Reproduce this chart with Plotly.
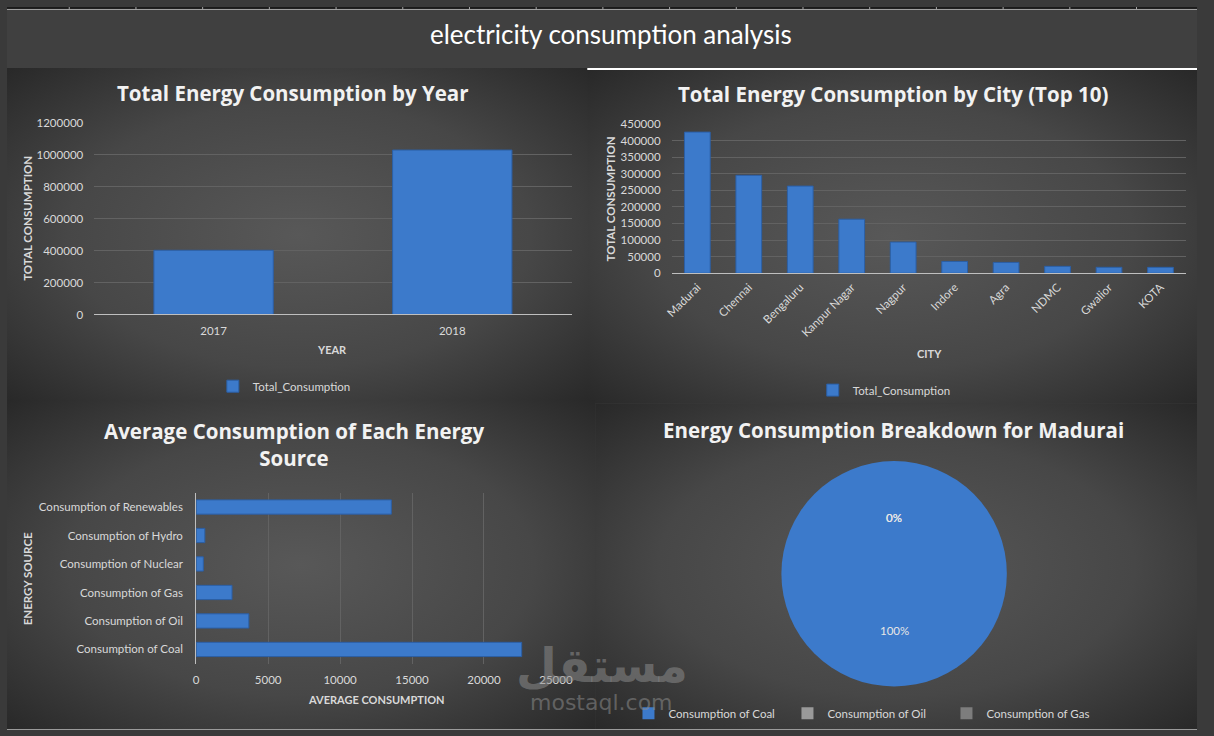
import base64
import math
import plotly.graph_objects as go

W, H = 1214, 736

# ---------------- data ----------------
years = ["2017", "2018"]
year_totals = [402000, 1030000]

cities = ["Madurai", "Chennai", "Bengaluru", "Kanpur Nagar", "Nagpur",
          "Indore", "Agra", "NDMC", "Gwalior", "KOTA"]
city_totals = [425300, 295000, 262500, 162800, 93800, 35500, 32600, 20700, 17800, 17700]

sources = ["Consumption of Coal", "Consumption of Oil", "Consumption of Gas",
           "Consumption of Nuclear", "Consumption of Hydro", "Consumption of Renewables"]
source_avgs = [22620, 3660, 2490, 495, 600, 13560]

pie_labels = ["Consumption of Coal", "Consumption of Oil", "Consumption of Gas"]
pie_values = [425300, 0, 0]

# ---------------- helpers ----------------
def px(x):
    return x / W

def py(y):
    return 1 - y / H

FONT = "Lato"
TFONT = "Open Sans"
TICK = dict(family=FONT, size=11.5, color="#d9d9d9")
BLUE = "#3c7acb"
BLUE_LINE = "#2b5fa6"
GRID = "#626262"
AXLINE = "#bfbfbf"


def panel_svg(w, h):
    svg = (f'<svg xmlns="http://www.w3.org/2000/svg" width="{w}" height="{h}" '
           f'viewBox="0 0 {w} {h}" preserveAspectRatio="none"><defs>'
           '<radialGradient id="g" cx="50%" cy="50%" r="72%">'
           '<stop offset="0%" stop-color="#585858"/>'
           '<stop offset="55%" stop-color="#474747"/>'
           '<stop offset="100%" stop-color="#272727"/>'
           '</radialGradient></defs>'
           f'<rect width="{w}" height="{h}" fill="url(#g)"/></svg>')
    return "data:image/svg+xml;base64," + base64.b64encode(svg.encode()).decode()


fig = go.Figure()

# ---------------- traces ----------------
fig.add_trace(go.Bar(
    x=years, y=year_totals, name="Total_Consumption",
    marker=dict(color=BLUE, line=dict(color=BLUE_LINE, width=1)),
    xaxis="x", yaxis="y", legend="legend", showlegend=True))

fig.add_trace(go.Bar(
    x=cities, y=city_totals, name="Total_Consumption",
    marker=dict(color=BLUE, line=dict(color=BLUE_LINE, width=1)),
    xaxis="x2", yaxis="y2", legend="legend2", showlegend=True))

fig.add_trace(go.Bar(
    x=source_avgs, y=sources, orientation="h", name="Average",
    marker=dict(color=BLUE, line=dict(color=BLUE_LINE, width=1)),
    xaxis="x3", yaxis="y3", showlegend=False))

pie_cx, pie_cy, pie_r = 905, 577, 115
fig.add_trace(go.Pie(
    labels=pie_labels, values=pie_values, sort=False, direction="clockwise",
    rotation=0, textinfo="none", hoverinfo="label+percent",
    marker=dict(colors=[BLUE, "#9a9a9a", "#7d7d7d"], line=dict(width=0)),
    domain=dict(x=[px(pie_cx - pie_r), px(pie_cx + pie_r)],
                y=[py(pie_cy + pie_r), py(pie_cy - pie_r)]),
    legend="legend3", showlegend=True))

# ---------------- annotations ----------------
ann = []

def text(x, y, s, size, bold=False, color="#f2f2f2", angle=0, family=FONT, xanchor="center"):
    ann.append(dict(x=px(x), y=py(y), xref="paper", yref="paper", text=(f"<b>{s}</b>" if bold else s),
                    showarrow=False, xanchor=xanchor, yanchor="middle", textangle=angle,
                    font=dict(family=family, size=size, color=color)))

text(616, 27, "electricity consumption analysis", 26, color="#ffffff")
text(292, 88, "Total Energy Consumption by Year", 20.5, bold=True, family=TFONT)
text(904, 89, "Total Energy Consumption by City (Top 10)", 20.5, bold=True, family=TFONT)
text(293, 445, "Average Consumption of Each Energy<br>Source", 20.5, bold=True, family=TFONT)
text(904, 431, "Energy Consumption Breakdown for Madurai", 20.5, bold=True, family=TFONT)

text(332, 349, "YEAR", 11, bold=True, color="#d9d9d9")
text(21, 215, "TOTAL CONSUMPTION", 11.5, bold=True, color="#d9d9d9", angle=-90)
text(941, 353, "CITY", 11, bold=True, color="#d9d9d9")
text(616, 195, "TOTAL CONSUMPTION", 11.5, bold=True, color="#d9d9d9", angle=-90)
text(377, 705, "AVERAGE CONSUMPTION", 11, bold=True, color="#d9d9d9")
text(21, 582, "ENERGY SOURCE", 11.5, bold=True, color="#d9d9d9", angle=-90)

# pie percentage labels, placed at the middle angle of each slice, half radius out
total = sum(pie_values)
cum = 0
for v in pie_values:
    mid = (cum + v / 2) / total
    cum += v
    ang = 2 * math.pi * mid
    lx = pie_cx + 0.5 * pie_r * math.sin(ang)
    ly = pie_cy - 0.5 * pie_r * math.cos(ang)
    text(lx, ly, f"{round(100 * v / total)}%", 11.5, color="#e6e6e6")

# watermark
text(607, 670, "<b>مستقل</b>", 47, color="rgba(140,140,140,0.55)", family="DejaVu Sans")
text(606, 708, "mostaql.com", 22, color="rgba(140,140,140,0.55)", family="DejaVu Sans")

# ---------------- shapes ----------------
shapes = [
    dict(type="rect", xref="paper", yref="paper", x0=0, x1=1, y0=py(2), y1=1,
         fillcolor="#1b1b1b", line=dict(width=0), layer="below"),
    dict(type="rect", xref="paper", yref="paper", x0=0, x1=1, y0=py(62), y1=py(3),
         fillcolor="#404040", line=dict(width=0), layer="below"),
    dict(type="line", xref="paper", yref="paper", x0=0, x1=1, y0=py(2.5), y1=py(2.5),
         line=dict(color="#a6a6a6", width=1)),
    dict(type="line", xref="paper", yref="paper", x0=px(592), x1=1, y0=py(63), y1=py(63),
         line=dict(color="#ffffff", width=2)),
    dict(type="line", xref="paper", yref="paper", x0=0, x1=1, y0=py(735.5), y1=py(735.5),
         line=dict(color="#9a9a9a", width=1)),
]
sep = 63.5
while sep < W:
    shapes.append(dict(type="line", xref="paper", yref="paper", x0=px(sep), x1=px(sep),
                       y0=py(2.5), y1=1, line=dict(color="#a6a6a6", width=1)))
    sep += 68.05

# ---------------- panel backgrounds ----------------
images = []
for (x0, y0, w, h) in [(0, 62, 596, 340), (592, 64, 622, 340), (0, 400, 600, 336), (600, 404, 614, 332)]:
    images.append(dict(source=panel_svg(w, h), xref="paper", yref="paper",
                       x=px(x0), y=py(y0), sizex=w / W, sizey=h / H,
                       xanchor="left", yanchor="top", sizing="stretch", layer="below"))

# ---------------- layout ----------------
legend_common = dict(font=dict(family=FONT, size=11.5, color="#d9d9d9"),
                     bgcolor="rgba(0,0,0,0)", itemwidth=30, yanchor="middle",
                     xanchor="left", orientation="h")

fig.update_layout(
    autosize=True, margin=dict(l=0, r=0, t=0, b=0),
    paper_bgcolor="#3a3a3a", plot_bgcolor="rgba(0,0,0,0)",
    bargap=0.5,
    font=dict(family=FONT, color="#d9d9d9"),
    xaxis=dict(domain=[px(89), px(576)], anchor="y", type="category",
               showline=True, linecolor=AXLINE, linewidth=1, ticks="",
               tickfont=TICK, showgrid=False, ticklabelstandoff=6),
    yaxis=dict(domain=[py(313), py(118)], anchor="x", range=[0, 1200000], dtick=200000,
               tickformat="d", showgrid=True, gridcolor=GRID, gridwidth=1,
               zeroline=False, showline=False, ticks="", tickfont=TICK, ticklabelstandoff=10),
    xaxis2=dict(domain=[px(678), px(1203)], anchor="y2", type="category",
                showline=True, linecolor=AXLINE, linewidth=1, ticks="",
                tickfont=TICK, showgrid=False, tickangle=-45, ticklabelstandoff=2),
    yaxis2=dict(domain=[py(271), py(119)], anchor="x2", range=[0, 450000], dtick=50000,
                tickformat="d", showgrid=True, gridcolor=GRID, gridwidth=1,
                zeroline=False, showline=False, ticks="", tickfont=TICK, ticklabelstandoff=10),
    xaxis3=dict(domain=[px(193), px(560)], anchor="y3", range=[0, 25000], dtick=5000,
                tickformat="d", showgrid=True, gridcolor=GRID, gridwidth=1,
                zeroline=False, showline=False, ticks="", tickfont=TICK, ticklabelstandoff=8),
    yaxis3=dict(domain=[py(668.5), py(494.5)], anchor="x3", type="category",
                showline=True, linecolor=AXLINE, linewidth=1, ticks="",
                tickfont=TICK, showgrid=False, ticklabelstandoff=10),
    legend=dict(x=px(210), y=py(386), **legend_common),
    legend2=dict(x=px(822), y=py(390), **legend_common),
    legend3=dict(x=px(634), y=py(719), entrywidth=114, entrywidthmode="pixels", **legend_common),
    annotations=ann,
    shapes=shapes,
    images=images,
)

# The plot div is pinned to the top-left corner of the window at exactly W x H,
# so the page's default body margin cannot shift or rescale it.
fig.write_html(
    "out.html",
    default_width=f"{W}px",
    default_height=f"{H}px;position:fixed;top:0;left:0",
)
